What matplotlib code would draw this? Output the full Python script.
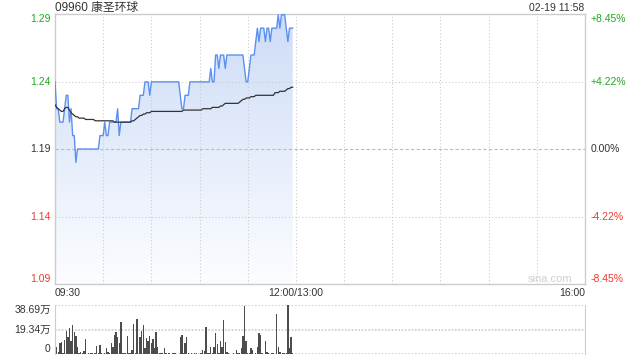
import matplotlib
matplotlib.use('Agg')
import matplotlib.pyplot as plt
import matplotlib.transforms as mtransforms
from matplotlib.colors import LinearSegmentedColormap
import numpy as np

plt.rcParams['font.family'] = ['Liberation Sans', 'Noto Sans CJK SC']

TITLE = '09960 康圣环球'
STAMP = '02-19 11:58'
PREV_CLOSE = 1.19
PCT_RANGE = 8.45  # percent, half height of price panel

# minute prices 09:30 .. 11:58
price = [1.24, 1.22, 1.22, 1.21, 1.21, 1.21, 1.22, 1.23, 1.23, 1.21,
         1.22, 1.20, 1.20, 1.18, 1.19, 1.19, 1.19, 1.19, 1.19, 1.19,
         1.19, 1.19, 1.19, 1.19, 1.19, 1.19, 1.19, 1.19, 1.20, 1.20,
         1.20, 1.21, 1.20, 1.20, 1.21, 1.21, 1.21, 1.21, 1.21, 1.22,
         1.20, 1.21, 1.21, 1.21, 1.21, 1.21, 1.21, 1.21, 1.22, 1.22,
         1.22, 1.22, 1.22, 1.23, 1.23, 1.23, 1.24, 1.24, 1.24, 1.23,
         1.24, 1.24, 1.24, 1.24, 1.24, 1.24, 1.24, 1.24, 1.24, 1.24,
         1.24, 1.24, 1.24, 1.24, 1.24, 1.24, 1.24, 1.24, 1.23, 1.22,
         1.22, 1.23, 1.23, 1.23, 1.24, 1.24, 1.24, 1.24, 1.24, 1.24,
         1.24, 1.24, 1.24, 1.24, 1.24, 1.24, 1.24, 1.25, 1.24, 1.24,
         1.26, 1.26, 1.25, 1.26, 1.26, 1.26, 1.25, 1.26, 1.26, 1.26,
         1.26, 1.26, 1.26, 1.26, 1.26, 1.26, 1.26, 1.26, 1.25, 1.24,
         1.24, 1.25, 1.26, 1.26, 1.26, 1.27, 1.28, 1.27, 1.28, 1.28,
         1.28, 1.27, 1.28, 1.28, 1.27, 1.28, 1.28, 1.28, 1.28, 1.29,
         1.28, 1.29, 1.29, 1.29, 1.28, 1.27, 1.28, 1.28, 1.28]

avg_price = [1.223, 1.221, 1.220, 1.219, 1.218, 1.218, 1.220, 1.221, 1.221, 1.219,
             1.217, 1.216, 1.215, 1.214, 1.214, 1.213, 1.213, 1.213, 1.213, 1.212,
             1.212, 1.212, 1.212, 1.212, 1.212, 1.211, 1.211, 1.211, 1.211, 1.211,
             1.211, 1.211, 1.211, 1.211, 1.211, 1.211, 1.211, 1.210, 1.210, 1.210,
             1.210, 1.210, 1.210, 1.210, 1.210, 1.210, 1.210, 1.210, 1.211, 1.211,
             1.212, 1.213, 1.214, 1.215, 1.215, 1.216, 1.216, 1.217, 1.217, 1.217,
             1.218, 1.218, 1.218, 1.218, 1.218, 1.218, 1.218, 1.218, 1.218, 1.218,
             1.218, 1.218, 1.218, 1.218, 1.218, 1.218, 1.218, 1.218, 1.218, 1.218,
             1.219, 1.219, 1.219, 1.219, 1.219, 1.219, 1.219, 1.219, 1.219, 1.219,
             1.219, 1.219, 1.220, 1.220, 1.220, 1.220, 1.220, 1.220, 1.221, 1.221,
             1.221, 1.221, 1.221, 1.222, 1.222, 1.223, 1.224, 1.224, 1.224, 1.224,
             1.224, 1.224, 1.224, 1.224, 1.224, 1.225, 1.226, 1.227, 1.227, 1.228,
             1.228, 1.228, 1.229, 1.229, 1.229, 1.230, 1.230, 1.230, 1.230, 1.230,
             1.230, 1.230, 1.230, 1.230, 1.230, 1.230, 1.230, 1.232, 1.232, 1.232,
             1.233, 1.233, 1.233, 1.233, 1.234, 1.235, 1.235, 1.236, 1.236]

# minute volume, 万 shares
volume = [27.6, 5.8, 1.8, 9.0, 9.7, 0.5, 11.0, 18.4, 13.7, 20.3,
          10.3, 22.9, 17.6, 14.5, 5.3, 0.5, 1.6, 0.5, 2.6, 11.6,
          0.3, 0.5, 0.8, 1.0, 0.3, 0.5, 6.3, 0.8, 7.1, 0.8,
          0.3, 0.5, 5.0, 1.8, 0.5, 8.4, 5.8, 15.0, 17.4, 13.7,
          8.4, 25.3, 0.8, 0.5, 1.0, 14.2, 0.5, 0.8, 3.2, 23.7,
          0.5, 27.6, 0.3, 13.7, 18.4, 22.9, 4.5, 12.4, 10.5, 14.2,
          8.4, 11.6, 4.5, 17.6, 5.3, 0.8, 0.5, 0.5, 4.5, 0.5,
          0.3, 0.5, 0.3, 1.0, 0.5, 1.0, 0.3, 0.3, 13.7, 15.0,
          0.5, 9.0, 13.7, 0.5, 0.3, 0.5, 0.3, 0.5, 0.5, 0.3,
          0.3, 0.5, 3.2, 2.6, 21.6, 0.5, 0.8, 5.8, 0.5, 5.8,
          16.3, 7.9, 0.5, 10.5, 5.8, 26.8, 9.7, 1.8, 0.5, 0.3,
          0.3, 1.0, 0.3, 3.2, 0.5, 0.5, 4.5, 14.2, 37.9, 10.3,
          0.5, 1.0, 4.5, 3.2, 0.3, 0.5, 5.3, 16.6, 15.0, 0.5,
          0.3, 10.3, 1.8, 0.5, 0.3, 0.5, 0.5, 0.3, 31.6, 5.8,
          1.8, 0.3, 0.5, 0.5, 0.5, 38.7, 4.5, 13.2, 0.5]

PRICE_LABELS = ['1.09', '1.14', '1.19', '1.24', '1.29']
PCT_LABELS = ['-8.45%', '-4.22%', '0.00%', '+4.22%', '+8.45%']
LABEL_COLORS = ['#f03a2e', '#f03a2e', '#333333', '#1fa81f', '#1fa81f']
TIME_LABELS = ['09:30', '12:00/13:00', '16:00']
TIME_TICKS = [0, 150, 330]
SESSION_MINUTES = 330
VOL_MAX = 38.69
VOL_LABELS = ['0', '19.34万', '38.69万']

GRID = '#cccccc'
TXT = '#333333'
FS = 7.5

# -------------------------------------------------------------

lo = PREV_CLOSE * (1 - PCT_RANGE / 100)
hi = PREV_CLOSE * (1 + PCT_RANGE / 100)
yticks = np.linspace(lo, hi, 5)
t = np.arange(len(price))

fig = plt.figure(figsize=(6.4, 3.6), dpi=100)
ax = fig.add_axes([55/640, 76/360, 530/640, 270/360])
vax = fig.add_axes([55/640, 6/360, 530/640, 49/360])

# price panel
poly = ax.fill_between(t, price, lo, color='none', lw=0)
grad = np.linspace(0, 1, 256).reshape(-1, 1)
cmap = LinearSegmentedColormap.from_list('fade', ['#fcfdff', '#cddcf7'])
img = ax.imshow(grad, aspect='auto', cmap=cmap, origin='lower',
                extent=[0, t[-1], lo, hi], zorder=0.5)
img.set_clip_path(poly.get_paths()[0], transform=ax.transData)

for v in range(30, SESSION_MINUTES, 30):
    ax.axvline(v, color=GRID, lw=0.8, ls=(0, (1, 2)), zorder=1)
ax.axhline(yticks[1], color=GRID, lw=0.8, ls=(0, (1, 2)), zorder=1)
ax.axhline(yticks[3], color=GRID, lw=0.8, ls=(0, (1, 2)), zorder=1)
ax.axhline(yticks[2], color='#bbbbbb', lw=0.8, ls=(0, (3, 2)), zorder=1)

ax.plot(t, price, color='#5b90f0', lw=1.0, zorder=3)
ax.plot(t, avg_price, color='#333333', lw=0.9, zorder=3)

ax.set_xlim(0, SESSION_MINUTES)
ax.set_ylim(lo, hi)
ax.set_xticks([])
ax.set_yticks([])
for s in ax.spines.values():
    s.set_color(GRID)
    s.set_linewidth(1.0)

trans = mtransforms.blended_transform_factory(ax.transAxes, ax.transData)
for n, yv in enumerate(yticks):
    va = 'center'
    if n == 0:
        va = 'bottom'
    elif n == len(yticks) - 1:
        va = 'top'
    ax.text(-0.008, yv, PRICE_LABELS[n], transform=trans, ha='right', va=va,
            fontsize=FS, color=LABEL_COLORS[n])
    ax.text(1.01, yv, PCT_LABELS[n], transform=trans, ha='left', va=va,
            fontsize=FS, color=LABEL_COLORS[n])

xtrans = mtransforms.blended_transform_factory(ax.transData, ax.transAxes)
for n, xv in enumerate(TIME_TICKS):
    ha = ['left', 'center', 'right'][n]
    ax.text(xv, -0.033, TIME_LABELS[n], transform=xtrans, ha=ha, va='center',
            fontsize=FS, color=TXT)

ax.text(0.977, 0.02, 'sina.com', transform=ax.transAxes, ha='right', va='center',
        fontsize=8, color='#cfcfcf')

fig.text(55/640, 1 - 7.5/360, TITLE, ha='left', va='center', fontsize=8.5, color=TXT)
fig.text(584/640, 1 - 8/360, STAMP, ha='right', va='center', fontsize=FS, color=TXT)

# volume panel
vax.bar(t, volume, width=0.85, color='#4d4d4d', lw=0)
for yv in [0, VOL_MAX / 2, VOL_MAX]:
    vax.axhline(yv, color=GRID, lw=1.2, ls=(0, (1, 1)), zorder=0)
vax.set_xlim(0, SESSION_MINUTES)
vax.set_ylim(0, VOL_MAX)
vax.set_xticks([])
vax.set_yticks([])
vax.spines['top'].set_visible(False)
vax.spines['bottom'].set_visible(False)
vax.spines['left'].set_color(GRID)
vax.spines['right'].set_color(GRID)

vtrans = mtransforms.blended_transform_factory(vax.transAxes, vax.transData)
for n, yv in enumerate([0, VOL_MAX / 2, VOL_MAX]):
    va = ['bottom', 'center', 'top'][n]
    vax.text(-0.008, yv, VOL_LABELS[n], transform=vtrans, ha='right', va=va,
             fontsize=FS, color=TXT)

fig.savefig('out.png', dpi=100)
